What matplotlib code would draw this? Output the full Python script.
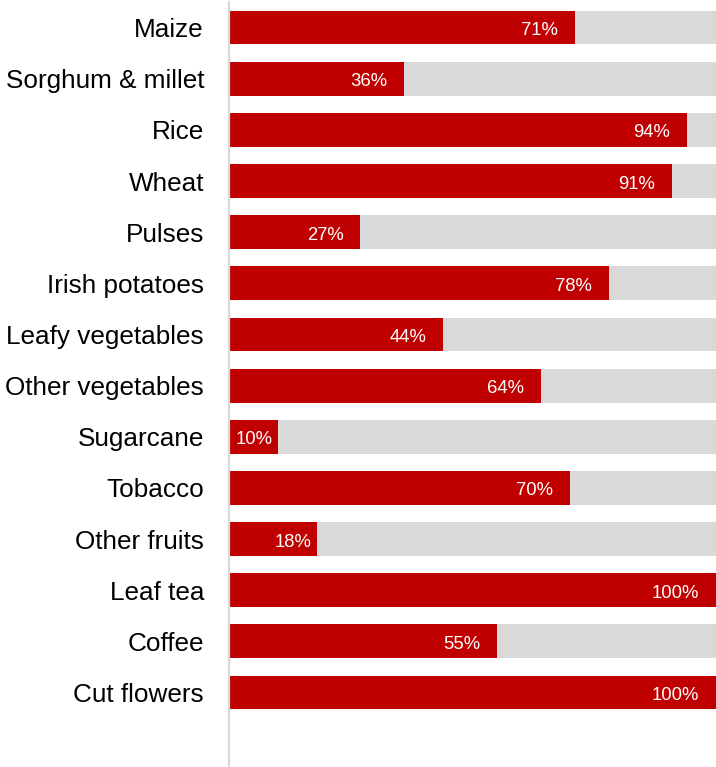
import matplotlib.pyplot as plt
from matplotlib.transforms import offset_copy

# Share of each crop, percent
crops = ['Maize', 'Sorghum & millet', 'Rice', 'Wheat', 'Pulses',
         'Irish potatoes', 'Leafy vegetables', 'Other vegetables',
         'Sugarcane', 'Tobacco', 'Other fruits', 'Leaf tea', 'Coffee',
         'Cut flowers']
shares = [71, 36, 94, 91, 27, 78, 44, 64, 10, 70, 18, 100, 55, 100]

RED = '#C00000'
GREY = '#D9D9D9'

plt.rcParams['font.family'] = ['Liberation Sans', 'DejaVu Sans']

fig = plt.figure(figsize=(7.16, 7.67), dpi=100)
ax = fig.add_axes([229 / 716, 0, 1 - 229 / 716, 1 - 2 / 767])

pos = list(range(len(crops)))
ax.barh(pos, [100] * len(crops), height=0.66, color=GREY, zorder=1)
ax.barh(pos, shares, height=0.66, color=RED, zorder=2)

# white value labels just inside the bar end
for y, v in zip(pos, shares):
    off = -5 if v < 25 else -17
    tr = offset_copy(ax.transData, fig=fig, x=off, y=-3, units='dots')
    ax.text(v, y, f'{v}%', transform=tr, ha='right', va='center',
            color='white', fontsize=13.3, zorder=3)

ax.set_xlim(0, 100)
ax.set_ylim(len(crops) - 1 + 1.456, -0.50)
ax.set_yticks(pos)
ax.set_yticklabels(crops, fontsize=18.8)
ax.tick_params(axis='y', length=0, pad=18)
ax.set_xticks([])

for side in ['top', 'right', 'bottom']:
    ax.spines[side].set_visible(False)
ax.spines['left'].set_color(GREY)
ax.spines['left'].set_linewidth(1.6)
ax.spines['left'].set_zorder(4)

fig.savefig('out.png', dpi=100)
